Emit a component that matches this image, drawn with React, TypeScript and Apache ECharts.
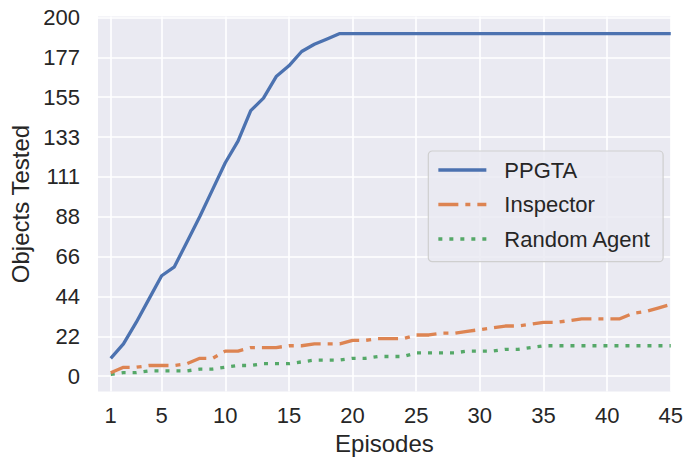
import React, { useEffect, useRef } from "react";
import * as echarts from "echarts";

const episodes = Array.from({ length: 45 }, (_, i) => i + 1);

const ppgta = [
  10, 18, 30, 43, 56, 61, 75, 89, 104, 119, 131, 148, 155, 167, 173, 181, 185, 188, 191, 191,
  191, 191, 191, 191, 191, 191, 191, 191, 191, 191, 191, 191, 191, 191, 191, 191, 191, 191, 191, 191,
  191, 191, 191, 191, 191,
];
const inspector = [
  2, 5, 5, 6, 6, 6, 7, 10, 10, 14, 14, 16, 16, 16, 17, 17, 18, 18, 18, 20,
  20, 21, 21, 21, 23, 23, 24, 24, 25, 26, 27, 28, 28, 29, 30, 30, 31, 32, 32, 32,
  32, 35, 36, 38, 40,
];
const randomAgent = [
  1, 2, 2, 3, 3, 3, 3, 4, 4, 5, 6, 6, 7, 7, 7, 8, 9, 9, 9, 10,
  10, 11, 11, 11, 13, 13, 13, 13, 14, 14, 14, 15, 15, 16, 17, 17, 17, 17, 17, 17,
  17, 17, 17, 17, 17,
];

const seriesNames = ["PPGTA", "Inspector", "Random Agent"];
const xTicks = [1, 5, 10, 15, 20, 25, 30, 35, 40, 45];
const yTickLabels = ["0", "22", "44", "66", "88", "111", "133", "155", "177", "200"];
const yTickStep = 200 / 9;
const yTickValues = yTickLabels.map((_, i) => i * yTickStep);

const FONT = "'Liberation Sans', Arial, sans-serif";
const TEXT = "#262626";

export default function App() {
  const ref = useRef<HTMLDivElement>(null);
  useEffect(() => {
    if (!ref.current) return;
    const chart = echarts.init(ref.current, undefined, { renderer: "svg" });
    const mk = (vals: number[]) => episodes.map((e, i) => [e, vals[i]]);
    chart.setOption({
      animation: false,
      backgroundColor: "#ffffff",
      textStyle: { fontFamily: FONT, color: TEXT },
      grid: { left: 94, right: 13.3, top: 16.5, bottom: 70.5, show: true, backgroundColor: "#EAEAF2", borderWidth: 0 },
      xAxis: {
        type: "value",
        min: 0,
        max: 45,
        name: "Episodes",
        nameLocation: "middle",
        nameGap: 40,
        nameTextStyle: { fontSize: 24, color: TEXT, fontFamily: FONT },
        axisLine: { show: false },
        axisTick: { show: false, customValues: xTicks },
        axisLabel: { customValues: xTicks, fontSize: 22, color: TEXT, margin: 13, fontFamily: FONT },
        splitLine: { show: true, lineStyle: { color: "#ffffff", width: 1.6 } },
      },
      yAxis: {
        type: "value",
        min: -8.5,
        max: 200.5,
        name: "Objects Tested",
        nameLocation: "middle",
        nameGap: 66,
        nameTextStyle: { fontSize: 24, color: TEXT, fontFamily: FONT },
        axisLine: { show: false },
        axisTick: { show: false, customValues: yTickValues },
        axisLabel: {
          customValues: yTickValues,
          fontSize: 22,
          color: TEXT,
          margin: 18,
          fontFamily: FONT,
          formatter: (v: number) => yTickLabels[Math.round(v / yTickStep)] ?? "",
        },
        splitLine: { show: true, lineStyle: { color: "#ffffff", width: 1.6 } },
      },
      legend: {
        orient: "vertical",
        left: 428.3,
        top: 151,
        itemWidth: 48,
        itemHeight: 20,
        itemGap: 12.5,
        padding: [8, 12, 11.7, 8.4],
        backgroundColor: "rgba(234,234,242,0.85)",
        borderColor: "#cfcfcf",
        borderWidth: 1.2,
        borderRadius: 4,
        itemStyle: { opacity: 0 },
        lineStyle: { width: 3.3 },
        textStyle: { fontSize: 22, color: TEXT, fontFamily: FONT, padding: [0, 0, 0, 13], lineHeight: 20 },
        data: seriesNames,
      },
      series: [
        {
          name: seriesNames[0],
          type: "line",
          data: mk(ppgta),
          symbol: "none",
          lineStyle: { color: "#4C72B0", width: 3.3 },
          itemStyle: { color: "#4C72B0" },
          z: 3,
        },
        {
          name: seriesNames[1],
          type: "line",
          data: mk(inspector),
          symbol: "none",
          lineStyle: { color: "#DD8452", width: 3.3, type: [20, 7, 5, 7], cap: "butt" },
          itemStyle: { color: "#DD8452" },
          z: 2,
        },
        {
          name: seriesNames[2],
          type: "line",
          data: mk(randomAgent),
          symbol: "none",
          lineStyle: { color: "#55A868", width: 3.3, type: [4, 7], cap: "butt" },
          itemStyle: { color: "#55A868" },
          z: 1,
        },
      ],
    });
    return () => chart.dispose();
  }, []);
  return <div ref={ref} style={{ width: 686, height: 462, position: "absolute", left: 0, top: 0 }} />;
}
